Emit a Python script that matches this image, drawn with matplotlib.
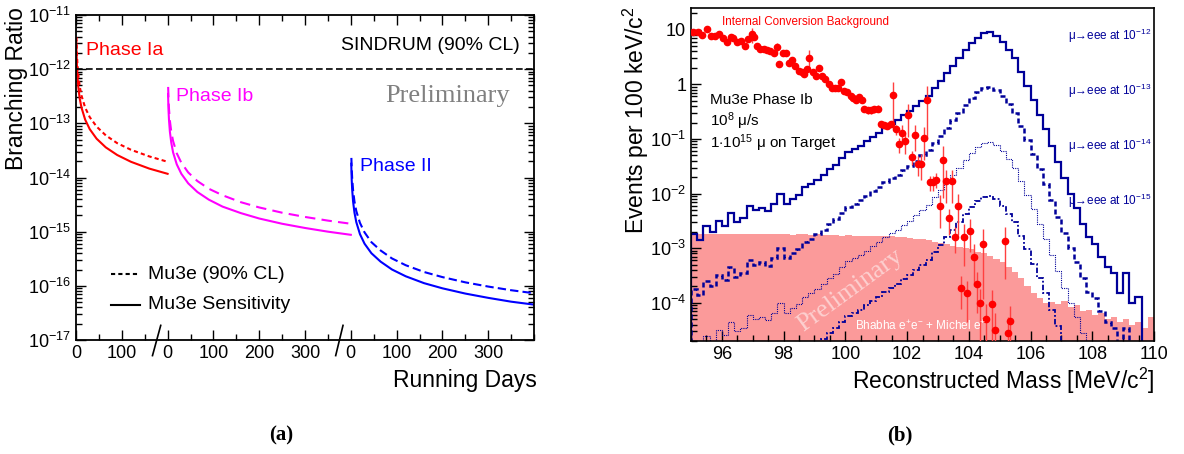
import numpy as np
import matplotlib.pyplot as plt
import matplotlib.transforms as mtransforms
from matplotlib.ticker import FixedLocator, LogLocator, NullFormatter, MultipleLocator, FuncFormatter

plt.rcParams['font.family'] = ['Liberation Sans', 'DejaVu Sans']
plt.rcParams['mathtext.fontset'] = 'custom'
plt.rcParams['mathtext.rm'] = 'Liberation Sans'
plt.rcParams['mathtext.it'] = 'Liberation Sans:italic'
plt.rcParams['mathtext.bf'] = 'Liberation Sans:bold'

# ---------------- (a) sensitivity vs running days ----------------
days_ia = [0.7, 1, 2, 3, 5, 8, 12, 20, 30, 45, 65, 90, 120, 160, 200]
ia_sens = [3.3e-12, 2.3e-12, 1.2e-12, 7.8e-13, 4.7e-13, 2.9e-13, 1.95e-13, 1.17e-13,
           7.8e-14, 5.2e-14, 3.6e-14, 2.6e-14, 1.95e-14, 1.46e-14, 1.17e-14]
days_ia_cl = [1, 2, 3, 5, 8, 12, 20, 30, 45, 65, 90, 120, 160, 200]
ia_cl = [3.9e-12, 1.95e-12, 1.3e-12, 7.8e-13, 4.9e-13, 3.25e-13, 1.95e-13, 1.3e-13,
         8.7e-14, 6.0e-14, 4.3e-14, 3.25e-14, 2.45e-14, 1.95e-14]

days_ib = [1, 2, 3, 5, 8, 12, 20, 30, 45, 65, 90, 120, 160, 200, 250, 300, 350, 400]
ib_sens = [3.5e-13, 1.75e-13, 1.17e-13, 7.0e-14, 4.4e-14, 2.9e-14, 1.75e-14, 1.17e-14,
           7.8e-15, 5.4e-15, 3.9e-15, 2.9e-15, 2.2e-15, 1.75e-15, 1.4e-15, 1.17e-15,
           1.0e-15, 8.75e-16]
days_ib_cl = [1.2, 2, 3, 5, 8, 12, 20, 30, 45, 65, 90, 120, 160, 200, 250, 300, 350, 400]
ib_cl = [4.7e-13, 2.8e-13, 1.87e-13, 1.12e-13, 7.0e-14, 4.7e-14, 2.8e-14, 1.87e-14,
         1.24e-14, 8.6e-15, 6.2e-15, 4.7e-15, 3.5e-15, 2.8e-15, 2.24e-15, 1.87e-15,
         1.6e-15, 1.4e-15]

days_ii = [1, 2, 3, 5, 8, 12, 20, 30, 45, 65, 90, 120, 160, 200, 250, 300, 350, 400]
ii_sens = [1.8e-14, 9.0e-15, 6.0e-15, 3.6e-15, 2.25e-15, 1.5e-15, 9.0e-16, 6.0e-16,
           4.0e-16, 2.8e-16, 2.0e-16, 1.5e-16, 1.12e-16, 9.0e-17, 7.2e-17, 6.0e-17,
           5.1e-17, 4.5e-17]
days_ii_cl = [1.25, 2, 3, 5, 8, 12, 20, 30, 45, 65, 90, 120, 160, 200, 250, 300, 350, 400]
ii_cl = [2.3e-14, 1.45e-14, 9.7e-15, 5.8e-15, 3.6e-15, 2.4e-15, 1.45e-15, 9.7e-16,
         6.4e-16, 4.5e-16, 3.2e-16, 2.4e-16, 1.8e-16, 1.45e-16, 1.16e-16, 9.7e-17,
         8.3e-17, 7.3e-17]

sindrum_limit = 1e-12
day_ticks = [0, 100, 200, 300, 400, 500, 600, 700, 800, 900]
day_labels = ['0', '100', '0', '100', '200', '300', '0', '100', '200', '300']

# ---------------- (b) reconstructed mass ----------------
mass_lo, mass_hi, bin_w = 95.0, 110.0, 0.2
signal_br = [1e-12, 1e-13, 1e-14, 1e-15]
signal_labels = ['12', '13', '14', '15']
# expected events at BR = 1e-12, 0.2 MeV bins
signal_1e12 = [1.8e-3, 1.4e-3, 2.5e-3, 2.0e-3, 3.2e-3, 2.6e-3, 4.5e-3, 3.0e-3, 3.5e-3, 6.0e-3,
               5.0e-3, 5.5e-3, 4.8e-3, 6.5e-3, 1.0e-2, 6.5e-3, 8.0e-3, 9.5e-3, 1.3e-2, 1.5e-2,
               1.8e-2, 2.2e-2, 2.8e-2, 3.4e-2, 4.5e-2, 5.8e-2, 6.5e-2, 7.5e-2, 9.0e-2, 0.11,
               0.13, 0.16, 0.19, 0.22, 0.27, 0.32, 0.40, 0.50, 0.62, 0.85,
               1.15, 1.6, 2.2, 3.0, 4.2, 5.6, 7.2, 8.6, 8.9, 7.8,
               6.0, 4.3, 3.0, 1.7, 0.95, 0.52, 0.28, 0.15, 0.075, 0.038,
               0.019, 0.010, 5.5e-3, 2.8e-3, 1.6e-3, 1.2e-3, 7e-4, 4.5e-4, 3.5e-4, 1.5e-4,
               3.5e-4, 1.0e-4, 1.3e-4, 0.0, 0.0]
background = [1.9e-3, 1.8e-3, 1.85e-3, 1.8e-3, 1.85e-3, 1.8e-3, 1.85e-3, 1.8e-3, 1.85e-3, 1.8e-3,
              1.85e-3, 1.8e-3, 1.8e-3, 1.85e-3, 1.8e-3, 1.8e-3, 1.75e-3, 1.8e-3, 1.8e-3, 1.75e-3,
              1.8e-3, 1.75e-3, 1.75e-3, 1.75e-3, 1.7e-3, 1.75e-3, 1.7e-3, 1.7e-3, 1.7e-3, 1.65e-3,
              1.7e-3, 1.65e-3, 1.65e-3, 1.6e-3, 1.6e-3, 1.55e-3, 1.5e-3, 1.45e-3, 1.4e-3, 1.3e-3,
              1.25e-3, 1.2e-3, 1.1e-3, 1.05e-3, 1.0e-3, 9.5e-4, 8.7e-4, 8.0e-4, 7.2e-4, 6.3e-4,
              5.5e-4, 4.6e-4, 3.7e-4, 2.8e-4, 2.0e-4, 1.5e-4, 1.2e-4, 1.0e-4, 1.05e-4, 9.5e-5,
              1.1e-4, 8.5e-5, 9.0e-5, 7.0e-5, 7.5e-5, 6.0e-5, 6.5e-5, 5.0e-5, 5.5e-5, 4.5e-5,
              5.0e-5, 4.0e-5, 4.5e-5, 3.5e-5, 5.5e-5]

ic_mass = [95.07, 95.24, 95.35, 95.51, 95.64, 95.78, 95.92, 96.05, 96.18, 96.29,
           96.37, 96.48, 96.61, 96.75, 96.86, 96.97, 97.05, 97.13, 97.24, 97.35,
           97.46, 97.56, 97.69, 97.78, 97.86, 97.97, 98.08, 98.18, 98.26, 98.37,
           98.50, 98.58, 98.67, 98.75, 98.83, 98.94, 99.05, 99.16, 99.26, 99.35,
           99.46, 99.56, 99.66, 99.77, 99.86, 99.97, 100.07, 100.18, 100.26, 100.35,
           100.45, 100.54, 100.62, 100.73, 100.84, 100.94, 101.05, 101.14, 101.25, 101.36,
           101.47, 101.55, 101.64, 101.74, 101.85, 101.94, 102.04, 102.15, 102.26, 102.34,
           102.45, 102.55, 102.64, 102.75, 102.85, 102.95, 103.06, 103.15, 103.25, 103.35,
           103.45, 103.55, 103.65, 103.76, 103.85, 103.95, 104.05, 104.16, 104.25, 104.35,
           104.45, 104.55, 104.75, 104.84, 105.16, 105.27, 105.35]
ic_events = [8.9, 9.1, 7.9, 10.3, 7.7, 7.7, 8.3, 7.2, 5.9, 7.4,
             7.2, 5.9, 6.1, 5.1, 6.8, 8.3, 7.4, 5.1, 4.5, 4.4,
             4.2, 4.0, 3.8, 4.8, 2.4, 3.7, 3.7, 2.5, 2.8, 2.2,
             1.78, 1.65, 1.55, 1.9, 3.1, 1.65, 1.45, 2.0, 1.45, 1.26,
             1.0, 0.85, 0.87, 0.87, 1.1, 0.77, 0.72, 0.62, 0.56, 0.52,
             0.58, 0.52, 0.36, 0.34, 0.34, 0.35, 0.36, 0.19, 0.18, 0.17,
             0.19, 0.64, 0.15, 0.08, 0.13, 0.09, 0.27, 0.047, 0.118, 0.035,
             0.035, 0.104, 0.51, 0.016, 0.016, 0.018, 0.0059, 0.042, 0.017, 0.0035,
             0.017, 0.0016, 0.0059, 1.9e-4, 1.6e-3, 1.5e-4, 2.1e-3, 6.9e-4, 2.2e-4, 1.0e-4,
             1.17e-3, 5.1e-5, 9.5e-5, 3.2e-5, 1.35e-3, 2.8e-5, 4.6e-5]
ic_relerr = [0.08, 0.08, 0.08, 0.1, 0.08, 0.08, 0.08, 0.08, 0.08, 0.08,
             0.08, 0.08, 0.08, 0.08, 0.1, 0.3, 0.1, 0.08, 0.08, 0.08,
             0.08, 0.08, 0.08, 0.2, 0.1, 0.1, 0.1, 0.1, 0.1, 0.1,
             0.1, 0.1, 0.1, 0.1, 0.35, 0.1, 0.1, 0.1, 0.1, 0.1,
             0.1, 0.1, 0.1, 0.1, 0.15, 0.1, 0.1, 0.1, 0.1, 0.1,
             0.1, 0.1, 0.1, 0.15, 0.15, 0.15, 0.15, 0.1, 0.1, 0.1,
             0.1, 0.75, 0.2, 0.3, 0.4, 0.4, 0.6, 0.3, 0.5, 0.4,
             0.5, 0.6, 0.8, 0.3, 0.3, 0.3, 0.6, 0.8, 0.6, 0.5,
             0.6, 0.5, 0.7, 0.6, 0.7, 0.7, 0.6, 0.7, 0.7, 0.8,
             0.9, 0.9, 0.8, 1.0, 0.8, 1.0, 0.9]

RED = '#ff0000'
MAG = '#ff00ff'
BLUE = '#0000ff'
NAVY = '#000099'
PINK = '#fb9a9a'

fig = plt.figure(figsize=(11.84, 4.54), dpi=100)
W, H = 1184, 454
axa = fig.add_axes([76 / W, 1 - 340 / H, (534 - 76) / W, (340 - 15) / H])
axb = fig.add_axes([691 / W, 1 - 341 / H, (1154 - 691) / W, (341 - 8) / H])

# ---- panel (a)
off_ia, off_ib, off_ii = 0, 200, 600
axa.plot(np.array(days_ia) + off_ia, ia_sens, color=RED, lw=1.5)
axa.plot(np.array(days_ia_cl) + off_ia, ia_cl, color=RED, lw=1.5, ls=(0, (2, 1.5)))
axa.plot(np.array(days_ib) + off_ib, ib_sens, color=MAG, lw=1.5)
axa.plot(np.array(days_ib_cl) + off_ib, ib_cl, color=MAG, lw=1.5, ls=(0, (5, 3)))
axa.plot(np.array(days_ii) + off_ii, ii_sens, color=BLUE, lw=1.5)
axa.plot(np.array(days_ii_cl) + off_ii, ii_cl, color=BLUE, lw=1.5, ls=(0, (4, 2)))
axa.axhline(sindrum_limit, color='black', lw=1.2, ls=(0, (4, 2)))

axa.set_yscale('log')
axa.set_xlim(0, 1000)
axa.set_ylim(1e-17, 1e-11)
axa.xaxis.set_major_locator(FixedLocator(day_ticks))
axa.set_xticklabels(day_labels)
axa.xaxis.set_minor_locator(MultipleLocator(50))
axa.yaxis.set_major_locator(LogLocator(base=10, numticks=20))
axa.yaxis.set_minor_locator(LogLocator(base=10, subs=np.arange(2, 10), numticks=20))
axa.yaxis.set_minor_formatter(NullFormatter())
axa.tick_params(which='both', direction='in', top=True, right=True, labelsize=13, width=1)
axa.tick_params(which='major', length=7)
axa.tick_params(which='minor', length=4)
for s in axa.spines.values():
    s.set_linewidth(1.3)

trans = mtransforms.blended_transform_factory(axa.transData, axa.transAxes)
for xs in ([167, 185], [567, 583]):
    axa.plot(xs, [-0.048, 0.045], transform=trans, color='black', lw=1.2, clip_on=False)

axa.text(0.021, 0.892, 'Phase Ia', color=RED, fontsize=14, transform=axa.transAxes, va='center')
axa.text(0.219, 0.75, 'Phase Ib', color=MAG, fontsize=14, transform=axa.transAxes, va='center')
axa.text(0.621, 0.534, 'Phase II', color=BLUE, fontsize=14, transform=axa.transAxes, va='center')
axa.text(0.969, 0.905, 'SINDRUM (90% CL)', fontsize=14, transform=axa.transAxes, va='center', ha='right')
axa.text(0.812, 0.75, 'Preliminary', fontsize=19, color='#808080', family='Liberation Serif',
         transform=axa.transAxes, va='center', ha='center')
axa.plot([0.077, 0.139], [0.202, 0.202], transform=axa.transAxes, color='black', lw=1.5, ls=(0, (2, 1.5)))
axa.plot([0.077, 0.139], [0.108, 0.108], transform=axa.transAxes, color='black', lw=1.5)
axa.text(0.158, 0.202, 'Mu3e (90% CL)', fontsize=14, transform=axa.transAxes, va='center')
axa.text(0.158, 0.108, 'Mu3e Sensitivity', fontsize=14, transform=axa.transAxes, va='center')

# ---- panel (b)
edges = np.arange(mass_lo, mass_hi + bin_w / 2, bin_w)
axb.set_yscale('log')
axb.stairs(background, edges, fill=True, color=PINK, baseline=1e-7, zorder=1)
styles = [('-', 1.6), ((0, (2, 1.2)), 1.8), ((0, (1, 1)), 0.8), ((0, (1, 1.2, 3, 1.2)), 1.3)]
for br, (ls, lw) in zip(signal_br, styles):
    vals = np.array(signal_1e12) * (br / 1e-12)
    axb.stairs(vals, edges, color=NAVY, ls=ls, lw=lw, zorder=2)

ic_y = np.array(ic_events)
ic_e = ic_y * np.array(ic_relerr)
axb.errorbar(ic_mass, ic_y, yerr=ic_e, fmt='o', ms=4.5, color=RED, ecolor='#ff4040',
             elinewidth=1, capsize=0, zorder=3)

axb.set_xlim(mass_lo, mass_hi)
axb.set_ylim(2e-5, 25)
axb.xaxis.set_major_locator(MultipleLocator(2))
axb.xaxis.set_minor_locator(MultipleLocator(0.5))
axb.yaxis.set_major_locator(LogLocator(base=10, numticks=20))
axb.yaxis.set_minor_locator(LogLocator(base=10, subs=np.arange(2, 10), numticks=20))
axb.yaxis.set_minor_formatter(NullFormatter())


def ylab(v, pos):
    e = int(round(np.log10(v)))
    if e == 0:
        return '1'
    if e == 1:
        return '10'
    return '$10^{%d}$' % e


axb.yaxis.set_major_formatter(FuncFormatter(ylab))
axb.tick_params(which='both', direction='in', labelsize=13, width=1)
axb.tick_params(which='major', length=7)
axb.tick_params(which='minor', length=4)
for s in axb.spines.values():
    s.set_linewidth(1.2)
axb.set_xticks([96, 98, 100, 102, 104, 106, 108, 110])

for lab, yy in zip(signal_labels, [0.917, 0.75, 0.585, 0.42]):
    axb.text(0.994, yy, '\u03bc\u2192eee at 10$^{-%s}$' % lab, color=NAVY, fontsize=8.5,
             transform=axb.transAxes, ha='right', va='center', zorder=5)
axb.text(0.068, 0.958, 'Internal Conversion Background', color=RED, fontsize=8.4,
         transform=axb.transAxes, va='center')
axb.text(0.04, 0.724, 'Mu3e Phase Ib', fontsize=11, transform=axb.transAxes, va='center')
axb.text(0.04, 0.659, '10$^{8}$ \u03bc/s', fontsize=11, transform=axb.transAxes, va='center')
axb.text(0.04, 0.594, '1$\\cdot$10$^{15}$ \u03bc on Target', fontsize=11, transform=axb.transAxes, va='center')
axb.text(0.354, 0.046, 'Bhabha e$^{+}$e$^{-}$ + Michel e$^{+}$', color='white', fontsize=8.5,
         transform=axb.transAxes, va='center', zorder=4)
axb.text(0.343, 0.153, 'Preliminary', color='#fdd0d0', fontsize=19, family='Liberation Serif',
         rotation=36, transform=axb.transAxes, ha='center', va='center', zorder=1.5)

# axis titles
fig.text(17 / W, 1 - 7 / H, 'Branching Ratio', rotation=90, ha='center', va='top', fontsize=16.5)
fig.text(537 / W, 1 - 380 / H, 'Running Days', ha='right', va='center', fontsize=16.5)
fig.text(636 / W, 1 - 6 / H, 'Events per 100 keV/c$^{2}$', rotation=90, ha='center', va='top', fontsize=16.5)
fig.text(1155 / W, 1 - 381 / H, 'Reconstructed Mass [MeV/c$^{2}$]', ha='right', va='center', fontsize=16.5)
fig.text(281 / W, 1 - 435 / H, '(a)', ha='center', va='center', fontsize=15, fontweight='bold',
         family='Liberation Serif')
fig.text(900 / W, 1 - 435 / H, '(b)', ha='center', va='center', fontsize=15, fontweight='bold',
         family='Liberation Serif')

fig.savefig('out.png', dpi=100)
